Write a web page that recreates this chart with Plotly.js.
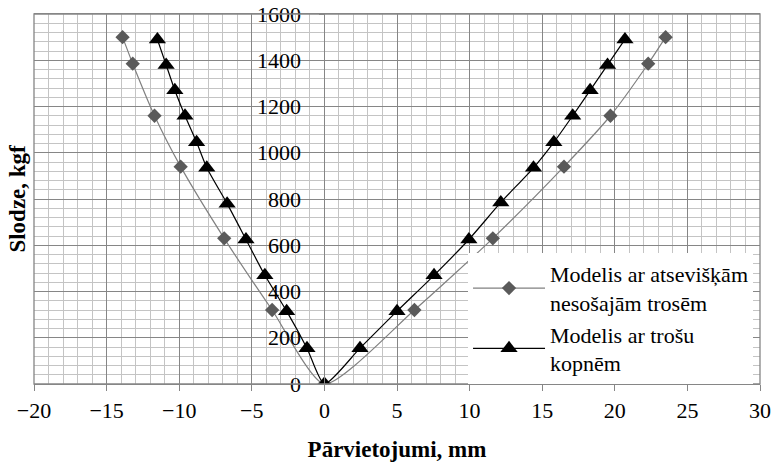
<!DOCTYPE html>
<html>
<head>
<meta charset="utf-8">
<script src="https://cdn.plot.ly/plotly-3.0.1.min.js"></script>
<style>html,body{margin:0;padding:0;background:#fff;}#chart{width:775px;height:462px;}</style>
</head>
<body>
<div id="chart"></div>
<script>
const seriesNames = ["Modelis ar atsevišķām<br>nesošajām trosēm", "Modelis ar trošu<br>kopnēm"];
const diamondX = [-13.9, -13.2, -11.7, -9.9, -6.9, -3.6, 0, 6.2, 11.6, 16.5, 19.7, 22.3, 23.5];
const diamondY = [1500, 1385, 1160, 940, 630, 320, 0, 320, 630, 940, 1160, 1385, 1500];
const triX = [-11.5, -10.9, -10.3, -9.6, -8.8, -8.1, -6.7, -5.4, -4.1, -2.6, -1.2, 0, 2.45, 5.0, 7.55, 9.95, 12.15, 14.4, 15.8, 17.1, 18.3, 19.5, 20.7];
const triY = [1490, 1380, 1270, 1160, 1045, 935, 780, 625, 470, 315, 155, 0, 155, 315, 470, 625, 785, 935, 1045, 1160, 1270, 1380, 1490];
const xTitle = "Pārvietojumi, mm";
const yTitle = "Slodze, kgf";

const FONT = "Liberation Serif, Times New Roman, serif";
const MAJOR = "#868686";
const MINOR = "#c4c4c4";

const traces = [
  {x: diamondX, y: diamondY, name: seriesNames[0], type: "scatter", mode: "lines+markers",
   line: {color: "#808080", width: 1.2, shape: "spline", smoothing: 0.6},
   marker: {symbol: "diamond", size: 11, color: "#5a5a5a"}},
  {x: triX, y: triY, name: seriesNames[1], type: "scatter", mode: "lines+markers",
   line: {color: "#000000", width: 1.2, shape: "spline", smoothing: 0.6},
   marker: {symbol: "triangle-up", size: 15, color: "#000000"}}
];

const layout = {
  width: 775, height: 462,
  margin: {l: 34, r: 15, t: 14, b: 78},
  paper_bgcolor: "#ffffff", plot_bgcolor: "#ffffff",
  font: {family: FONT, size: 22, color: "#000"},
  showlegend: true,
  legend: {x: 0.9904, y: 0, xanchor: "right", yanchor: "bottom", bgcolor: "#ffffff",
           borderwidth: 0, itemwidth: 72, font: {family: FONT, size: 22, color: "#000"}, tracegroupgap: 0},
  xaxis: {range: [-20, 30], dtick: 5, tick0: 0, showgrid: true, gridcolor: MAJOR, gridwidth: 1,
          minor: {dtick: 1, showgrid: true, gridcolor: MINOR, gridwidth: 1},
          zeroline: false, showline: true, linecolor: MAJOR, linewidth: 1.3, mirror: true,
          ticks: "outside", ticklen: 6, tickcolor: MAJOR, tickfont: {family: FONT, size: 22},
          title: {text: "<b>" + xTitle + "</b>", font: {family: FONT, size: 23}, standoff: 21}},
  yaxis: {range: [0, 1600], dtick: 200, showgrid: true, gridcolor: MAJOR, gridwidth: 1,
          minor: {dtick: 40, showgrid: true, gridcolor: MINOR, gridwidth: 1},
          anchor: "free", position: 0.4, zeroline: false, showline: true, linecolor: MAJOR, linewidth: 1,
          ticks: "outside", ticklen: 5, tickcolor: MAJOR, ticklabelstandoff: 14,
          tickfont: {family: FONT, size: 22}},
  shapes: [{type: "rect", xref: "paper", yref: "paper", x0: 0, x1: 1, y0: 0, y1: 1,
            line: {color: MAJOR, width: 1.3}, layer: "above"}],
  annotations: [{text: "<b>" + yTitle + "</b>", xref: "paper", yref: "paper",
                 x: -0.024, y: 0.5, xanchor: "center", yanchor: "middle", textangle: -90,
                 showarrow: false, font: {family: FONT, size: 23, color: "#000"}}]
};

Plotly.newPlot("chart", traces, layout, {displayModeBar: false, staticPlot: true});
</script>
</body>
</html>
